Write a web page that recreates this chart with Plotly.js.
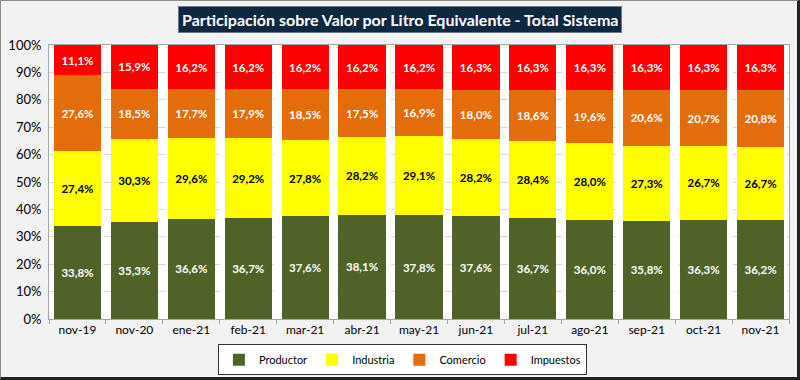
<!DOCTYPE html>
<html>
<head>
<meta charset="utf-8">
<script src="https://cdn.plot.ly/plotly-3.0.1.min.js"></script>
<style>
html,body{margin:0;padding:0;background:#f2f2f2;}
#wrap{position:relative;width:800px;height:380px;}
#chart{width:800px;height:380px;}
#frame{position:absolute;left:0;top:0;width:800px;height:380px;box-sizing:border-box;pointer-events:none;
 border-left:1px solid #8c8c8c;border-top:1px solid #8c8c8c;border-right:3px solid #222;border-bottom:3px solid #222;}
</style>
</head>
<body>
<div id="wrap"><div id="chart"></div><div id="frame"></div></div>
<script>
const categories = ["nov-19","nov-20","ene-21","feb-21","mar-21","abr-21","may-21","jun-21","jul-21","ago-21","sep-21","oct-21","nov-21"];
const productor = [33.8,35.3,36.6,36.7,37.6,38.1,37.8,37.6,36.7,36.0,35.8,36.3,36.2];
const industria = [27.4,30.3,29.6,29.2,27.8,28.2,29.1,28.2,28.4,28.0,27.3,26.7,26.7];
const comercio  = [27.6,18.5,17.7,17.9,18.5,17.5,16.9,18.0,18.6,19.6,20.6,20.7,20.8];
const impuestos = [11.1,15.9,16.2,16.2,16.2,16.2,16.2,16.3,16.3,16.3,16.3,16.3,16.3];
const yTicks = [0,10,20,30,40,50,60,70,80,90,100];
const yTickLabels = yTicks.map(v => v + "%");

const fmt = arr => arr.map(v => v.toFixed(1).replace(".", ",") + "%");
const FONT = "Lato, 'Open Sans', sans-serif";

function series(name, vals, color, txtColor){
  return {
    type: "bar", name: name, x: categories, y: vals,
    marker: {color: color, line: {width: 0}},
    text: fmt(vals), textposition: "inside", insidetextanchor: "middle",
    textangle: 0, constraintext: "none",
    textfont: {family: FONT, size: 11.5, color: txtColor, weight: "bold"},
    hoverinfo: "none"
  };
}

const data = [
  series("Productor", productor, "#4f6228", "#ffffff"),
  series("Industria", industria, "#ffff00", "#000000"),
  series("Comercio", comercio, "#e46c0a", "#ffffff"),
  series("Impuestos", impuestos, "#ff0000", "#ffffff")
];

const layout = {
  width: 800, height: 380,
  paper_bgcolor: "#f2f2f2", plot_bgcolor: "#ffffff",
  margin: {l: 49, r: 11, t: 45, b: 61},
  barmode: "stack", barnorm: "percent", bargap: 0.17,
  font: {family: FONT, size: 12, color: "#000"},
  showlegend: true,
  legend: {orientation: "h", xref: "container", x: 0.503, xanchor: "center",
    yref: "container", y: 0.094, yanchor: "top",
    bgcolor: "#ffffff", bordercolor: "#333", borderwidth: 1,
    font: {family: FONT, size: 11, color: "#000"}, traceorder: "normal",
    itemwidth: 30},
  xaxis: {type: "category", showline: true, linecolor: "#a6a6a6", mirror: true,
    ticks: "outside", tickson: "boundaries", ticklen: 4, tickcolor: "#a6a6a6",
    tickfont: {family: FONT, size: 12, color: "#000"}, showgrid: false},
  yaxis: {range: [0, 100], tickvals: yTicks, ticktext: yTickLabels,
    showline: true, linecolor: "#a6a6a6", mirror: true,
    showgrid: true, gridcolor: "#d9d9d9", griddash: "dash", gridwidth: 1,
    ticks: "", ticklabelstandoff: 4,
    tickfont: {family: FONT, size: 13, color: "#000"}, zeroline: false},
  annotations: [{
    xref: "paper", yref: "paper", x: 0.4743, y: 1, yanchor: "bottom", yshift: 12,
    text: "<b>Participación sobre Valor por Litro Equivalente - Total Sistema</b>",
    showarrow: false, bgcolor: "#0e2841", bordercolor: "#6a7a8a", borderwidth: 1, borderpad: 3,
    font: {family: FONT, size: 16, color: "#ffffff"}
  }]
};

Plotly.newPlot("chart", data, layout, {staticPlot: true});
</script>
</body>
</html>
